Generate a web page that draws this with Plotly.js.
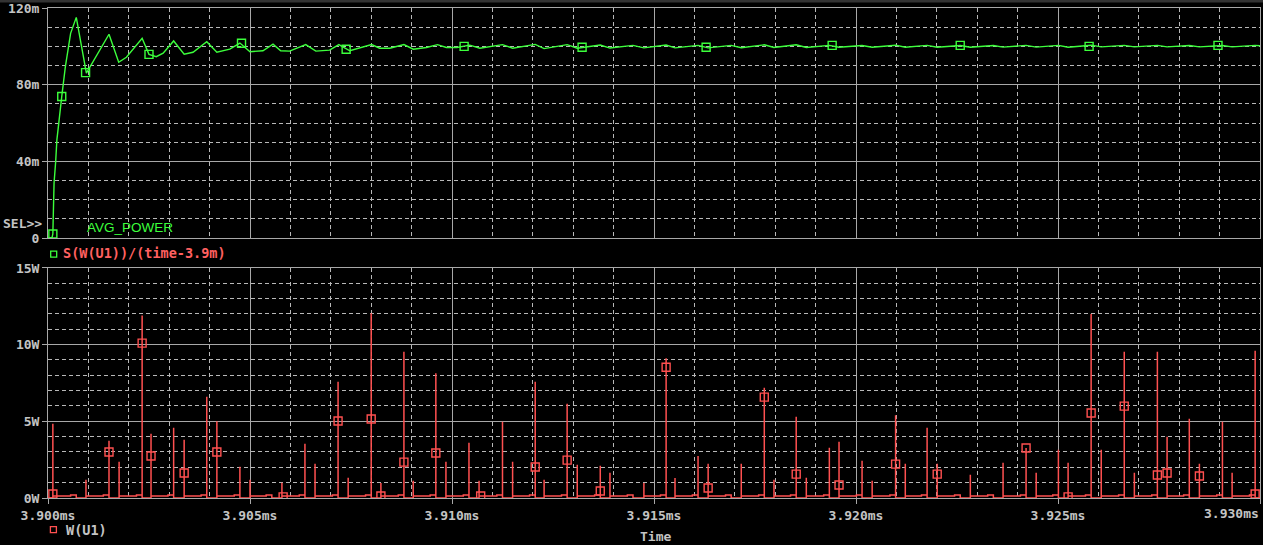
<!DOCTYPE html>
<html>
<head>
<meta charset="utf-8">
<script src="https://cdn.plot.ly/plotly-3.0.1.min.js"></script>
<style>
html,body{margin:0;padding:0;background:#000;overflow:hidden;}
#chart{width:1263px;height:545px;}
</style>
</head>
<body>
<div id="chart"></div>
<script>
// ---- Top trace: AVG_POWER = S(W(U1))/(time-3.9m), in mW ----
const avgT = [3.90000, 3.90010, 3.90012, 3.90015, 3.90019, 3.90022, 3.90034, 3.90043, 3.90056, 3.90070,
  3.90095, 3.90151, 3.90175, 3.90194, 3.90233, 3.90250, 3.90268, 3.90285, 3.90311, 3.90337,
  3.90359, 3.90393, 3.90418, 3.90450, 3.90475, 3.90500, 3.90532, 3.90557, 3.90576, 3.90598,
  3.90638, 3.90663, 3.90697, 3.90720, 3.90747, 3.90801, 3.90821, 3.90846, 3.90881, 3.90904,
  3.90937, 3.90964, 3.90986, 3.91012, 3.91044, 3.91069,
  3.91125, 3.91150, 3.91206, 3.91228, 3.91285, 3.91310, 3.91367, 3.91391, 3.91448, 3.91475,
  3.91530, 3.91552, 3.91609, 3.91634, 3.91691, 3.91716, 3.91773, 3.91797, 3.91852, 3.91877,
  3.91934, 3.91958, 3.92015, 3.92040, 3.92098, 3.92122, 3.92176, 3.92201, 3.92258, 3.92283,
  3.92340, 3.92364, 3.92421, 3.92446, 3.92501, 3.92525, 3.92582, 3.92607, 3.92664, 3.92689,
  3.92746, 3.92770, 3.92825, 3.92850, 3.92907, 3.92931, 3.92988, 3.93000];
const avgV = [0, 0.3, 2.1, 28.7, 39.9, 51.2, 73.8, 89.4, 106.8, 115.1,
  86.0, 106.3, 91.7, 94.3, 104.2, 95.8, 94.6, 96.4, 102.8, 95.9,
  96.9, 102.4, 96.9, 98.5, 101.7, 97.2, 97.7, 101.1, 97.7, 97.5,
  100.9, 97.5, 98.0, 100.9, 97.7, 100.9, 99.0, 99.0, 100.9, 98.5,
  99.4, 100.9, 99.4, 99.4, 100.6, 99.0,
  100.9, 99.0, 101.0, 98.8, 100.9, 99.0, 100.7, 99.1, 100.5, 99.2,
  100.7, 99.2, 100.5, 99.2, 100.5, 99.3, 100.8, 99.4, 100.8, 99.4,
  100.5, 99.5, 100.4, 99.5, 100.6, 99.5, 100.5, 99.5, 100.4, 99.5,
  100.4, 99.6, 100.5, 99.6, 100.5, 99.5, 100.6, 99.7, 100.5, 99.7,
  100.5, 99.7, 100.4, 99.7, 100.4, 99.7, 100.5, 100.3];
const avgMarkT = [3.90012, 3.90034, 3.90093, 3.90250, 3.90479, 3.90738, 3.91030, 3.91322, 3.91629, 3.91941, 3.92258, 3.92577, 3.92896];
const avgMarkV = [2.1, 73.8, 86.3, 95.8, 101.6, 98.5, 100.0, 99.5, 99.5, 100.5, 100.5, 100.0, 100.5];

// ---- Bottom trace: W(U1), in W ----
const bSpikeT = [3.90012, 3.90094, 3.90176, 3.90255, 3.90337, 3.90418, 3.90500, 3.90579, 3.90661, 3.90743,
  3.90824, 3.90904, 3.90985, 3.91067, 3.91150, 3.91228, 3.91310, 3.91391, 3.91475, 3.91552,
  3.91634, 3.91716, 3.91797, 3.91877, 3.91958, 3.92040, 3.92122, 3.92201, 3.92283, 3.92364,
  3.92446, 3.92525, 3.92607, 3.92689, 3.92770, 3.92850, 3.92931];
const bSpikeW = [4.84, 1.19, 2.37, 4.19, 3.8, 5.0, 1.19, 1.0, 2.24, 1.32,
  0.98, 1.13, 2.37, 1.13, 2.37, 1.19, 2.17, 1.65, 0.98, 1.3,
  2.24, 2.24, 1.19, 1.32, 3.67, 1.13, 2.24, 2.24, 1.52, 2.3,
  1.65, 2.3, 3.15, 1.65, 4.0, 2.24, 1.65];
const aSpikeT = [3.90070, 3.90151, 3.90233, 3.90311, 3.90393, 3.90475, 3.90554, 3.90636, 3.90718, 3.90800,
  3.90881, 3.90960, 3.91042, 3.91125, 3.91206, 3.91285, 3.91367, 3.91448, 3.91530, 3.91609,
  3.91691, 3.91773, 3.91852, 3.91934, 3.92015, 3.92098, 3.92176, 3.92258, 3.92340, 3.92421,
  3.92501, 3.92582, 3.92664, 3.92746, 3.92825, 3.92907, 3.92988];
const aSpikeW = [0.2, 3.73, 11.9, 4.58, 6.6, 2.04, 0.2, 3.54, 7.58, 12.05,
  9.53, 8.14, 3.6, 4.97, 7.58, 6.14, 2.1, 0.25, 9.12, 2.74,
  0.2, 7.19, 5.3, 3.28, 2.43, 5.4, 4.58, 0.2, 0.2, 3.26,
  3.15, 12.0, 9.53, 9.53, 5.17, 4.97, 9.6];
const plateauLow = 0.13;   // W level after each B spike
const plateauHigh = 0.2;   // W level just before each A spike
const stepLead = 0.00014;  // ms before an A spike where the level steps up
const wMarkT = [3.90012, 3.90151, 3.90233, 3.90255, 3.90337, 3.90418, 3.90582, 3.90718, 3.90800, 3.90824,
  3.90881, 3.90960, 3.91071, 3.91206, 3.91285, 3.91367, 3.91530, 3.91634, 3.91773, 3.91852,
  3.91958, 3.92098, 3.92201, 3.92421, 3.92525, 3.92582, 3.92664, 3.92746, 3.92770, 3.92850, 3.92988];
const wMarkW = [0.26, 3.0, 10.1, 2.74, 1.63, 3.0, 0.07, 5.02, 5.15, 0.13,
  2.34, 2.93, 0.13, 2.02, 2.47, 0.46, 8.53, 0.65, 6.58, 1.56,
  0.85, 2.21, 1.56, 3.26, 0.07, 5.54, 5.99, 1.5, 1.63, 1.43, 0.26];

// ---- Axis ticks ----
const xRange = [3.900, 3.930];
const xTickVals = [3.900, 3.905, 3.910, 3.915, 3.920, 3.925, 3.930];
const xTickText = ['3.900ms', '3.905ms', '3.910ms', '3.915ms', '3.920ms', '3.925ms', ''];
const xLastLabel = '3.930ms';
const topTickVals = [0, 40, 80, 120];
const topTickText = ['0', '40m', '80m', '120m'];
const botTickVals = [0, 5, 10, 15];
const botTickText = ['0W', '5W', '10W', '15W'];

// build W(U1) polyline from spike tables
const wT = [xRange[0]], wV = [0];
function push(t, v) { wT.push(t); wV.push(v); }
push(bSpikeT[0], 0); push(bSpikeT[0], bSpikeW[0]); push(bSpikeT[0], plateauLow);
for (let i = 0; i < aSpikeT.length; i++) {
  const ta = aSpikeT[i];
  push(ta - stepLead, plateauLow); push(ta - stepLead, plateauHigh);
  push(ta, plateauHigh); push(ta, aSpikeW[i]); push(ta, 0);
  if (i + 1 < bSpikeT.length) {
    const tb = bSpikeT[i + 1];
    push(tb, 0); push(tb, bSpikeW[i + 1]); push(tb, plateauLow);
  }
}
push(xRange[1], 0);

const GREEN = '#3cff3c', RED = '#ff5050', GRID = '#a8a8a8', DASH = '#b8b8b8', TXT = '#c4c4c4';
const MONO = {family: 'DejaVu Sans Mono, monospace', size: 13, color: TXT, weight: 'bold'};

const traces = [
  {x: avgT, y: avgV, xaxis: 'x', yaxis: 'y', mode: 'lines', line: {color: GREEN, width: 1.4}, hoverinfo: 'skip'},
  {x: avgMarkT, y: avgMarkV, xaxis: 'x', yaxis: 'y', mode: 'markers',
   marker: {symbol: 'square-open', size: 8, color: GREEN, line: {width: 1.4, color: GREEN}}, hoverinfo: 'skip'},
  {x: wT, y: wV, xaxis: 'x2', yaxis: 'y2', mode: 'lines', line: {color: RED, width: 1.5}, hoverinfo: 'skip'},
  {x: wMarkT, y: wMarkW, xaxis: 'x2', yaxis: 'y2', mode: 'markers',
   marker: {symbol: 'square-open', size: 8, color: RED, line: {width: 1.4, color: RED}}, hoverinfo: 'skip'}
];

const minorX = {tickmode: 'linear', tick0: 3.9, dtick: 0.001, showgrid: true, gridcolor: DASH, griddash: '4px,3px', gridwidth: 1, ticks: ''};
const common = {showline: true, mirror: true, linecolor: GRID, linewidth: 1, gridcolor: GRID, gridwidth: 1,
  zeroline: false, fixedrange: true, tickfont: MONO};

const W = 1212, H = 490, L = 48, T = 8;
const px = v => (v - L) / W;
const py = v => (T + H - v) / H;

const layout = {
  width: 1263, height: 545,
  margin: {l: L, r: 3, t: T, b: 47, pad: 0},
  paper_bgcolor: '#000', plot_bgcolor: '#000',
  showlegend: false,
  xaxis: Object.assign({}, common, {domain: [0, 1], anchor: 'y', range: xRange, tickmode: 'array', tickvals: xTickVals,
    ticktext: xTickText, showticklabels: false, ticks: '', minor: minorX}),
  yaxis: Object.assign({}, common, {domain: [0.5306, 1], anchor: 'x', range: [0, 120], tickmode: 'array',
    tickvals: topTickVals, ticktext: topTickText, ticks: 'outside', ticklen: 5, tickcolor: GRID,
    minor: {tickmode: 'linear', tick0: 0, dtick: 10, showgrid: true, gridcolor: DASH, griddash: '4px,3px', ticks: ''}}),
  xaxis2: Object.assign({}, common, {domain: [0, 1], anchor: 'y2', range: xRange, tickmode: 'array', tickvals: xTickVals,
    ticktext: xTickText, ticks: 'outside', ticklen: 5, tickcolor: GRID, minor: minorX}),
  yaxis2: Object.assign({}, common, {domain: [0, 0.4694], anchor: 'x2', range: [0, 15], tickmode: 'array',
    tickvals: botTickVals, ticktext: botTickText, ticks: 'outside', ticklen: 5, tickcolor: GRID,
    minor: {tickmode: 'linear', tick0: 0, dtick: 1, showgrid: true, gridcolor: DASH, griddash: '4px,3px', ticks: ''}}),
  shapes: [
    {type: 'rect', xref: 'paper', yref: 'paper', x0: px(0), x1: px(1263), y0: py(0), y1: py(2.5), fillcolor: '#333333', line: {width: 0}},
    {type: 'rect', xref: 'paper', yref: 'paper', xsizemode: 'pixel', ysizemode: 'pixel', xanchor: px(53.7), yanchor: py(254.2),
     x0: -3, x1: 3, y0: -3, y1: 3, line: {color: GREEN, width: 1.3}, fillcolor: 'rgba(0,0,0,0)'},
    {type: 'rect', xref: 'paper', yref: 'paper', xsizemode: 'pixel', ysizemode: 'pixel', xanchor: px(53.4), yanchor: py(529.7),
     x0: -3, x1: 3, y0: -3, y1: 3, line: {color: RED, width: 1.3}, fillcolor: 'rgba(0,0,0,0)'}
  ],
  annotations: [
    {xref: 'paper', yref: 'paper', x: px(43.5), y: py(223.5), xanchor: 'right', yanchor: 'middle', showarrow: false,
     text: 'SEL>>', font: MONO},
    {xref: 'paper', yref: 'paper', x: px(85), y: py(227.5), xanchor: 'left', yanchor: 'middle', showarrow: false,
     text: 'AVG_POWER', font: {family: 'Liberation Sans, Arial, sans-serif', size: 13.5, color: GREEN}},
    {xref: 'paper', yref: 'paper', x: px(61), y: py(253), xanchor: 'left', yanchor: 'middle', showarrow: false,
     text: 'S(W(U1))/(time-3.9m)', font: Object.assign({}, MONO, {color: '#ff6060', size: 13.5})},
    {xref: 'paper', yref: 'paper', x: px(63.5), y: py(529.5), xanchor: 'left', yanchor: 'middle', showarrow: false,
     text: 'W(U1)', font: Object.assign({}, MONO, {size: 13.5})},
    {xref: 'paper', yref: 'paper', x: px(1261), y: py(513), xanchor: 'right', yanchor: 'middle', showarrow: false,
     text: xLastLabel, font: MONO},
    {xref: 'paper', yref: 'paper', x: px(655), y: py(545), xanchor: 'center', yanchor: 'bottom', showarrow: false,
     text: 'Time', font: MONO, borderpad: 0}
  ]
};

Plotly.newPlot('chart', traces, layout, {staticPlot: true, displayModeBar: false});
</script>
</body>
</html>
